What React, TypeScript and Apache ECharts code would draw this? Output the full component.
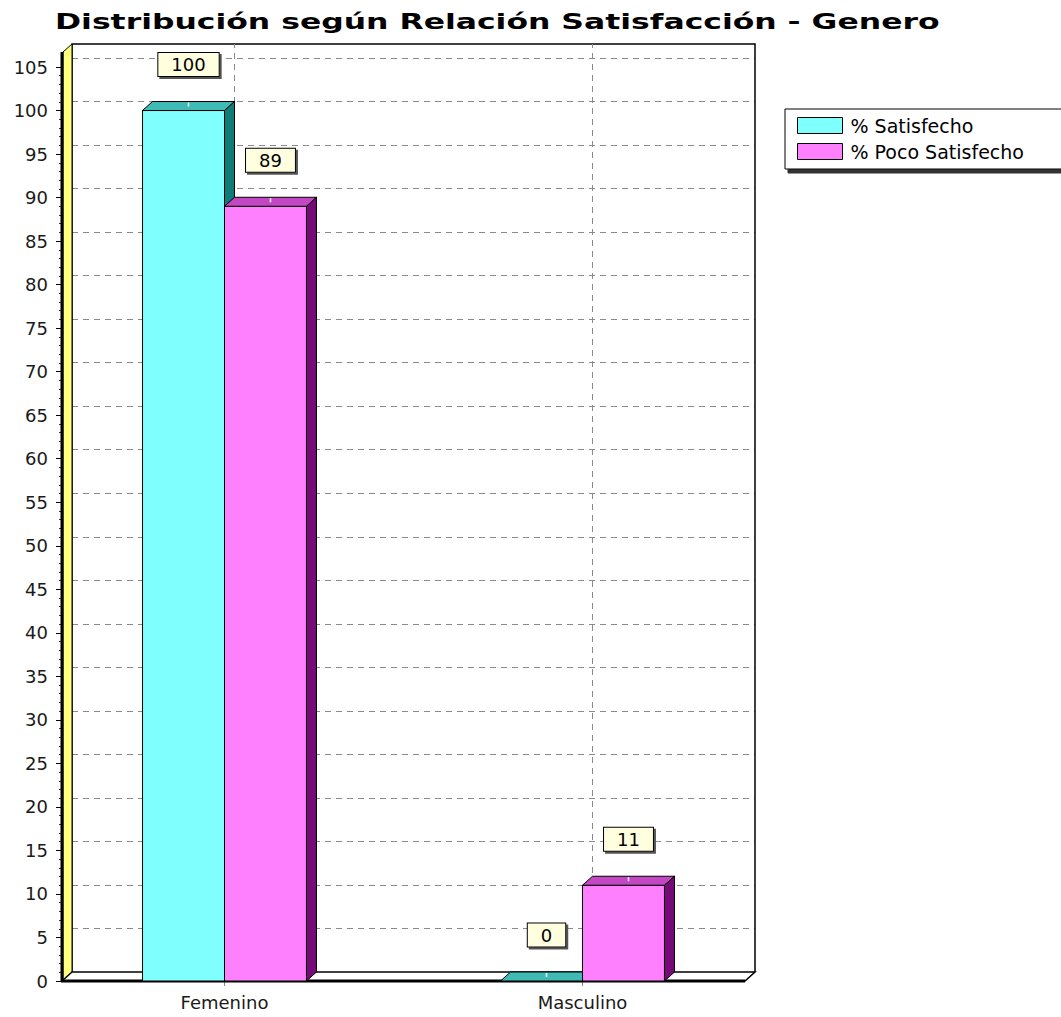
import React, { useEffect, useRef } from "react";
import * as echarts from "echarts";

const TITLE = "Distribución según Relación Satisfacción - Genero";
const categories = ["Femenino", "Masculino"];
const seriesNames = ["% Satisfecho", "% Poco Satisfecho"];
const satisfecho = [100, 0];
const pocoSatisfecho = [89, 11];
const yTicks = { min: 0, max: 105, interval: 5 };

const FONT = '"DejaVu Sans", Verdana, sans-serif';
const DX = 10;
const DY = 9;

const palettes = [
  { front: "#80ffff", top: "#3fbab4", side: "#0f7c78" },
  { front: "#ff80ff", top: "#c346c3", side: "#760a76" },
];

function makeRenderItem(si: number) {
  return (params: any, api: any) => {
    const ci = api.value(0);
    const v = api.value(1);
    const base = api.coord([ci, 0]);
    const cx = base[0];
    const yb = base[1];
    const yt = api.coord([ci, v])[1];
    const band = api.size([1, 0])[0];
    const bw = band * 0.229;
    const x0 = si === 0 ? cx - bw : cx;
    const x1 = x0 + bw;
    const p = palettes[si];
    const children: any[] = [];
    if (si === 0) {
      children.push({
        type: "line",
        shape: { x1: cx + DX, y1: yb - DY, x2: cx + DX, y2: params.coordSys.y - 23 },
        style: { stroke: "#8a8a8a", lineWidth: 1, lineDash: [6, 5] },
      });
    }
    children.push({
      type: "rect",
      shape: { x: x0, y: yt, width: bw, height: yb - yt },
      style: { fill: p.front, stroke: "#000", lineWidth: 1 },
    });
    children.push({
      type: "polygon",
      shape: { points: [[x0, yt], [x0 + DX, yt - DY], [x1 + DX, yt - DY], [x1, yt]] },
      style: { fill: p.top, stroke: "#000", lineWidth: 1 },
    });
    children.push({
      type: "polygon",
      shape: { points: [[x1, yt], [x1 + DX, yt - DY], [x1 + DX, yb - DY], [x1, yb]] },
      style: { fill: p.side, stroke: "#000", lineWidth: 1 },
    });
    const mx = (x0 + x1) / 2 + DX / 2;
    children.push({
      type: "line",
      shape: { x1: mx, y1: yt - DY + 1, x2: mx, y2: yt - 4 },
      style: { stroke: "#fff", lineWidth: 1.5 },
    });
    children.push({
      type: "text",
      x: mx,
      y: yt - 46,
      style: {
        text: String(v),
        font: `18px ${FONT}`,
        fill: "#000",
        align: "center",
        verticalAlign: "middle",
        backgroundColor: "#ffffe0",
        borderColor: "#000",
        borderWidth: 1,
        padding: [3, 13, 2, 13],
        shadowColor: "#555",
        shadowOffsetX: 2,
        shadowOffsetY: 2,
        shadowBlur: 0,
      },
    });
    return { type: "group", children };
  };
}

export default function App() {
  const ref = useRef<HTMLDivElement>(null);
  useEffect(() => {
    document.body.style.margin = "0";
    document.body.style.background = "#fff";
    if (!ref.current) return;
    const chart = echarts.init(ref.current, undefined, { renderer: "svg" });

    const titleFont = `bold 21px ${FONT}`;
    let sx = 1;
    const ctx = document.createElement("canvas").getContext("2d");
    if (ctx) {
      ctx.font = titleFont;
      const w = ctx.measureText(TITLE).width;
      if (w > 0) sx = 885 / w;
    }

    const seriesData = [satisfecho, pocoSatisfecho];

    chart.setOption({
      animation: false,
      backgroundColor: "#fff",
      grid: [
        { left: 45.5, width: 716, top: 67, height: 914 },
        { left: 72, width: 683, top: 58, height: 914 },
      ],
      xAxis: [
        {
          type: "category",
          gridIndex: 0,
          data: categories,
          boundaryGap: true,
          axisLine: { show: false },
          axisTick: { show: true, alignWithLabel: true, length: 5, lineStyle: { color: "#888" } },
          axisLabel: { fontSize: 18, fontFamily: FONT, color: "#1a1a1a", margin: 12 },
          splitLine: { show: false },
        },
        { type: "value", gridIndex: 1, show: false, min: 0, max: 1 },
      ],
      yAxis: [
        {
          type: "value",
          gridIndex: 0,
          min: yTicks.min,
          max: yTicks.max,
          interval: yTicks.interval,
          offset: -16.5,
          axisLine: { show: false },
          axisTick: { show: true, length: 6, lineStyle: { color: "#000" } },
          minorTick: { show: true, splitNumber: 5, length: 3, lineStyle: { color: "#333" } },
          axisLabel: { fontSize: 18, fontFamily: FONT, color: "#1a1a1a", margin: 14 },
          splitLine: { show: false },
        },
        {
          type: "value",
          gridIndex: 1,
          min: yTicks.min,
          max: yTicks.max,
          interval: yTicks.interval,
          axisLine: { show: false },
          axisTick: { show: false },
          axisLabel: { show: false },
          splitLine: { show: true, lineStyle: { color: "#8a8a8a", type: [6, 5], width: 1 } },
        },
      ],
      legend: {
        data: seriesNames,
        orient: "vertical",
        left: 785,
        top: 109,
        padding: [7, 38, 8, 12],
        itemGap: 7,
        itemWidth: 45,
        itemHeight: 16,
        icon: "rect",
        backgroundColor: "#fff",
        borderColor: "#000",
        borderWidth: 1,
        shadowColor: "#333",
        shadowOffsetX: 3,
        shadowOffsetY: 4,
        shadowBlur: 1,
        itemStyle: { borderColor: "#000", borderWidth: 1 },
        textStyle: { fontSize: 19, fontFamily: FONT, color: "#000", padding: [0, 0, 0, 3] },
      },
      graphic: [
        {
          type: "text",
          x: 55,
          y: 11,
          scaleX: sx,
          style: { text: TITLE, font: titleFont, fill: "#000", align: "left", verticalAlign: "top" },
        },
        {
          type: "polyline",
          z: 1,
          shape: { points: [[72, 972], [72, 44], [755, 44], [755, 972]] },
          style: { stroke: "#000", lineWidth: 1.5, fill: "none" },
        },
        {
          type: "polygon",
          z: 1,
          shape: { points: [[63, 52], [72, 44], [72, 972], [63, 981]] },
          style: { fill: "#ffff80", stroke: "#000", lineWidth: 1 },
        },
        {
          type: "polygon",
          z: 1,
          shape: { points: [[62, 981], [72, 972], [755, 972], [745, 981]] },
          style: { fill: "#fff", stroke: "#000", lineWidth: 1.5 },
        },
        {
          type: "line",
          z: 1,
          shape: { x1: 62, y1: 52, x2: 62, y2: 982 },
          style: { stroke: "#000", lineWidth: 3 },
        },
        {
          type: "line",
          z: 1,
          shape: { x1: 61, y1: 981, x2: 745, y2: 981 },
          style: { stroke: "#000", lineWidth: 3 },
        },
      ],
      series: seriesNames.map((name, si) => ({
        type: "custom",
        name,
        xAxisIndex: 0,
        yAxisIndex: 0,
        z: 3,
        itemStyle: { color: palettes[si].front, borderColor: "#000", borderWidth: 1 },
        renderItem: makeRenderItem(si),
        encode: { x: 0, y: 1 },
        data: seriesData[si].map((v, i) => [i, v]),
      })),
    });
    return () => chart.dispose();
  }, []);
  return <div ref={ref} style={{ width: 1061, height: 1017 }} />;
}
